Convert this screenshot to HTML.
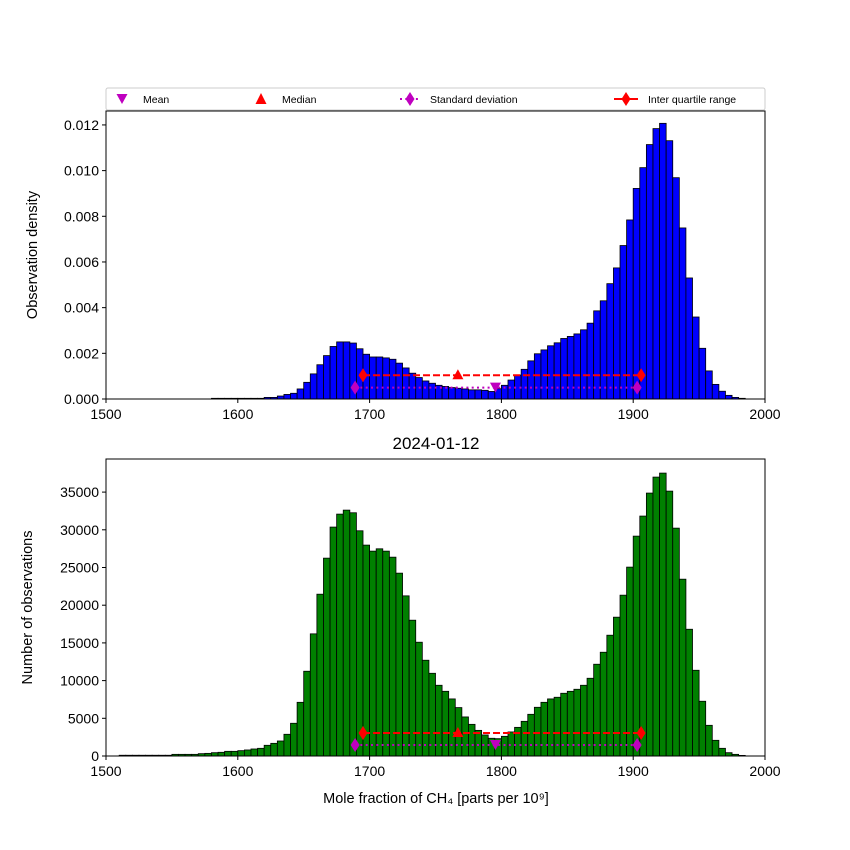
<!DOCTYPE html>
<html><head><meta charset="utf-8">
<style>
html,body{margin:0;padding:0;background:#fff;}
svg{display:block;font-family:"Liberation Sans","DejaVu Sans",sans-serif;}
</style></head>
<body>
<svg id="fig" width="850" height="850" viewBox="0 0 850 850" xmlns="http://www.w3.org/2000/svg">
<rect width="850" height="850" fill="#fff"/>
</svg>
<script>
// ---- data ----
const binStart = 1510;
const binWidth = 5;
const densityValues = [0,0,0,0,0,0,0,0,0,0,0,0,0,0,
 0.00003,0.00003,0.00003,0.00003,0.00003,0.00003,0.00003,0.00003,
 0.00007,0.00007,0.00013,0.0002,0.00025,0.00044,0.00073,0.0011,0.0015,0.0019,0.0023,
 0.0025,0.0025,0.00245,0.0022,0.00196,0.00184,0.00184,0.0018,0.00174,0.00157,0.00136,
 0.00113,0.00094,0.00079,0.00069,0.0006,0.00055,0.0005,0.00047,0.00044,0.0004,0.0004,
 0.00038,0.00033,0.00045,0.0006,
 0.00083,0.00105,0.0013,0.00167,0.00198,0.00215,0.00233,0.00246,0.00265,0.00274,0.00285,
 0.00303,0.00332,0.00386,0.0043,0.00505,0.00574,0.00672,0.00784,0.00922,0.01013,0.01114,
 0.01184,0.01207,0.01131,0.00969,0.00749,0.0053,0.00359,0.00222,0.00123,0.00064,0.00034,
 0.00016,0.00007,0.00003];
const countValues = [100,100,100,100,100,100,100,100,
 220,220,220,220,310,350,440,490,620,620,710,800,930,1020,1420,1680,1990,2880,4340,7120,
 11240,16200,21460,26240,30360,32080,32610,32260,29870,27970,27170,27480,27170,26370,
 24250,21240,18010,15090,12700,10970,9380,8580,7570,6420,5180,4200,3400,2790,2350,2300,
 2610,3190,3800,4600,5530,6460,7120,7570,7790,8320,8580,8850,9380,10310,12170,13760,
 16020,18410,21330,25050,29160,31820,34870,36990,37520,35130,30220,23450,16810,11370,
 7260,4070,2080,1020,440,220,80];
const statMean = 1795.5;
const statMedian = 1767;
const statStdRange = [1689, 1903];
const statIqrRange = [1695, 1906];
const densityStatY = {iqr:0.00104, std:0.0005};
const countStatY = {iqr:3050, std:1460};
const xTicks = [1500,1600,1700,1800,1900,2000];
const densityTicks = [0,0.002,0.004,0.006,0.008,0.010,0.012];
const densityTickLabels = ["0.000","0.002","0.004","0.006","0.008","0.010","0.012"];
const countTicks = [0,5000,10000,15000,20000,25000,30000,35000];
const countTickLabels = ["0","5000","10000","15000","20000","25000","30000","35000"];

// ---- helpers ----
const NS="http://www.w3.org/2000/svg";
const svg=document.getElementById('fig');
function mk(tag, attrs, parent){const e=document.createElementNS(NS,tag);for(const k in attrs)e.setAttribute(k,attrs[k]);(parent||svg).appendChild(e);return e;}
const X0=106,X1=765;
const xs=v=>X0+(v-1500)/500*(X1-X0);

function drawPanel(cfg){
  const g=mk('g',{});
  
  
  const ys=v=>cfg.bot-(v/cfg.ymax)*(cfg.bot-cfg.top);
  cfg.values.forEach((v,i)=>{
    if(v<=0) return;
    const x=xs(binStart+i*binWidth), w=xs(binStart+(i+1)*binWidth)-x;
    const r=mk('rect',{x:x,y:ys(v),width:w,height:cfg.bot-ys(v),fill:cfg.color,stroke:'#000','stroke-width':0.8},g);
    
    
  });
  const yi=ys(cfg.stat.iqr), yd=ys(cfg.stat.std);
  const sl=mk('line',{x1:xs(statStdRange[0]),x2:xs(statStdRange[1]),y1:yd,y2:yd,stroke:'#bf00bf','stroke-width':2,'stroke-dasharray':'2,3.3'},g);
  
  
  const il=mk('line',{x1:xs(statIqrRange[0]),x2:xs(statIqrRange[1]),y1:yi,y2:yi,stroke:'#ff0000','stroke-width':2,'stroke-dasharray':'7,3'},g);
  
  
  const dia=(x,y,c,n)=>{const p=mk('polygon',{points:`${x},${y-7} ${x+4.5},${y} ${x},${y+7} ${x-4.5},${y}`,fill:c},g);
    
    };
  dia(xs(statStdRange[0]),yd,'#bf00bf','std-marker-low');
  dia(xs(statStdRange[1]),yd,'#bf00bf','std-marker-high');
  dia(xs(statIqrRange[0]),yi,'#ff0000','iqr-marker-low');
  dia(xs(statIqrRange[1]),yi,'#ff0000','iqr-marker-high');
  const mx=xs(statMedian);
  const med=mk('polygon',{points:`${mx},${yi-6} ${mx+5.5},${yi+4} ${mx-5.5},${yi+4}`,fill:'#ff0000'},g);
  
  
  const mn=xs(statMean);
  const mean=mk('polygon',{points:`${mn-5.5},${yd-5} ${mn+5.5},${yd-5} ${mn},${yd+5}`,fill:'#bf00bf'},g);
  
  
  const fr=mk('rect',{x:X0,y:cfg.top,width:X1-X0,height:cfg.bot-cfg.top,fill:'none',stroke:'#000','stroke-width':1},g);
  
  
  xTicks.forEach(t=>{
    const x=xs(t);
    mk('line',{x1:x,x2:x,y1:cfg.bot,y2:cfg.bot+4,stroke:'#000'},g);
    const tx=mk('text',{x:x,y:cfg.bot+20,'font-size':14,'text-anchor':'middle'},g);
    tx.textContent=t;
    
    
  });
  cfg.ticks.forEach((t,i)=>{
    const y=ys(t);
    mk('line',{x1:X0-4,x2:X0,y1:y,y2:y,stroke:'#000'},g);
    const tx=mk('text',{x:X0-7,y:y+5,'font-size':14,'text-anchor':'end'},g);
    tx.textContent=cfg.labels[i];
    
    
  });
  const yl=mk('text',{x:0,y:0,'font-size':14.5,'text-anchor':'middle',transform:`translate(${cfg.ylabX},${(cfg.top+cfg.bot)/2}) rotate(-90)`},g);
  yl.textContent=cfg.ylabel;
  
  
}

drawPanel({name:'density-panel',values:densityValues,color:'#0000ff',top:111,bot:399,ymax:0.01261,
  ticks:densityTicks,labels:densityTickLabels,stat:densityStatY,ylabel:'Observation density',ylabX:37});
drawPanel({name:'count-panel',values:countValues,color:'#008000',top:459,bot:756,ymax:39390,
  ticks:countTicks,labels:countTickLabels,stat:countStatY,ylabel:'Number of observations',ylabX:32});

const title=mk('text',{x:436,y:449,'font-size':17,'text-anchor':'middle'});
title.textContent='2024-01-12';


const xl=mk('text',{x:436,y:803,'font-size':14.5,'text-anchor':'middle'});
xl.textContent='Mole fraction of CH₄ [parts per 10⁹]';



const lg=mk('g',{});


mk('rect',{x:106,y:88,width:659,height:22,rx:2,fill:'#fff',stroke:'#ccc','stroke-width':1},lg);
const lt=(x,s,n)=>{const t=mk('text',{x:x,y:103,'font-size':10.5},lg);t.textContent=s;
  
  };
mk('polygon',{points:'116.5,94 127.5,94 122,104',fill:'#bf00bf'},lg);
lt(143,'Mean','legend-mean');
mk('polygon',{points:'261,93 266.5,104 255.5,104',fill:'#ff0000'},lg);
lt(282,'Median','legend-median');
mk('line',{x1:400,x2:420,y1:99,y2:99,stroke:'#bf00bf','stroke-width':2,'stroke-dasharray':'2,3.3'},lg);
mk('polygon',{points:'410,92 414.5,99 410,106 405.5,99',fill:'#bf00bf'},lg);
lt(430,'Standard deviation','legend-std');
mk('line',{x1:614,x2:638,y1:99,y2:99,stroke:'#ff0000','stroke-width':2},lg);
mk('polygon',{points:'626,92 630.5,99 626,106 621.5,99',fill:'#ff0000'},lg);
lt(648,'Inter quartile range','legend-iqr');
</script>
</body></html>
